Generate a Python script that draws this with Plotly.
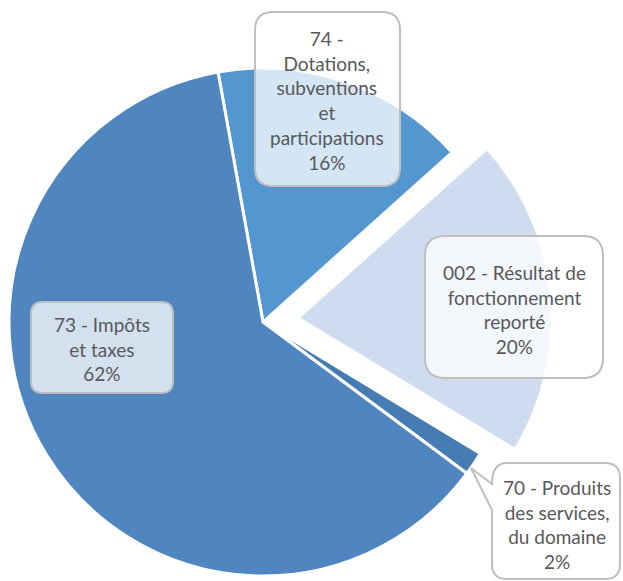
import plotly.graph_objects as go

# ---- data ----
categories = ["74 - Dotations, subventions et participations",
              "002 - Résultat de fonctionnement reporté",
              "70 - Produits des services, du domaine",
              "73 - Impôts et taxes"]
label_lines = [["74 -", "Dotations,", "subventions", "et", "participations"],
               ["002 - Résultat de", "fonctionnement", "reporté"],
               ["70 - Produits", "des services,", "du domaine"],
               ["73 - Impôts", "et taxes"]]
values = [16.2, 20.3, 1.5, 62.0]
colors = ["#5496CF", "#CFDCEF", "#467CB4", "#4F86C0"]

W, H = 623, 581
R = 254
CENTER = (263, 322)
EXPLODED = (298, 318)   # centre of the pulled-out slice (index 1)
PULLED = 1

def px(x, y):
    return x / W, 1 - y / H

def domain_for(c):
    cx, cy = c
    return dict(x=[(cx - R) / W, (cx + R) / W],
                y=[1 - (cy + R) / H, 1 - (cy - R) / H])

TRANSP = "rgba(0,0,0,0)"
colA = [TRANSP if i == PULLED else c for i, c in enumerate(colors)]
wA = [0 if i == PULLED else 3 for i in range(len(colors))]
colB = [c if i == PULLED else TRANSP for i, c in enumerate(colors)]
wB = [3 if i == PULLED else 0 for i in range(len(colors))]

common = dict(labels=categories, values=values, sort=False, direction="clockwise",
              rotation=-10.2, textinfo="none", hoverinfo="skip", showlegend=False)

fig = go.Figure()
fig.add_trace(go.Pie(**common, domain=domain_for(CENTER),
                     marker=dict(colors=colA, line=dict(color="white", width=wA))))
fig.add_trace(go.Pie(**common, domain=domain_for(EXPLODED),
                     marker=dict(colors=colB, line=dict(color="white", width=wB))))

def P(x, y):
    a, b = px(x, y)
    return f"{a:.5f},{b:.5f}"

def rrect(x0, y0, x1, y1, r):
    return (f"M {P(x0 + r, y0)} L {P(x1 - r, y0)} Q {P(x1, y0)} {P(x1, y0 + r)} "
            f"L {P(x1, y1 - r)} Q {P(x1, y1)} {P(x1 - r, y1)} "
            f"L {P(x0 + r, y1)} Q {P(x0, y1)} {P(x0, y1 - r)} "
            f"L {P(x0, y0 + r)} Q {P(x0, y0)} {P(x0 + r, y0)} Z")

def callout(x0, y0, x1, y1, r, tip, a0, a1):
    return (f"M {P(*tip)} L {P(x0, a0)} Q {P(x0, y0)} {P(x0 + r, y0)} "
            f"L {P(x1 - r, y0)} Q {P(x1, y0)} {P(x1, y0 + r)} "
            f"L {P(x1, y1 - r)} Q {P(x1, y1)} {P(x1 - r, y1)} "
            f"L {P(x0 + r, y1)} Q {P(x0, y1)} {P(x0, y1 - r)} "
            f"L {P(x0, a1)} Z")

box_style = dict(type="path", xref="paper", yref="paper",
                 fillcolor="rgba(255,255,255,0.75)",
                 line=dict(color="#BFBFBF", width=2))

# box geometry per category (px): x0, y0, x1, y1, radius, text centre
boxes = {
    0: (255, 12, 400, 186, 18, (327, 100)),
    1: (425, 236, 603, 378, 20, (514, 309)),
    2: (492, 463, 620, 579, 15, (557, 524)),
    3: (31, 302, 173, 393, 12, (102, 349)),
}

shapes = []
annotations = []
total = sum(values)
for i, (x0, y0, x1, y1, r, tc) in boxes.items():
    if i == 2:
        path = callout(x0, y0, x1, y1, r, (471, 468), 484, 510)
    else:
        path = rrect(x0, y0, x1, y1, r)
    shapes.append(dict(box_style, path=path))
    pct = f"{round(values[i] / total * 100)}%"
    text = "<br>".join(label_lines[i] + [pct])
    ax, ay = px(*tc)
    annotations.append(dict(x=ax, y=ay, xref="paper", yref="paper", text=text,
                            showarrow=False, xanchor="center", yanchor="middle",
                            align="center",
                            font=dict(family="Lato", size=19, color="#595959")))

fig.update_layout(width=W, height=H, margin=dict(l=0, r=0, t=0, b=0),
                  paper_bgcolor="white", plot_bgcolor="white",
                  shapes=shapes, annotations=annotations)

fig.write_html("out.html",
               config={"displayModeBar": False},
               post_script="document.body.style.margin='0';"
                           "document.body.style.overflow='hidden';")
